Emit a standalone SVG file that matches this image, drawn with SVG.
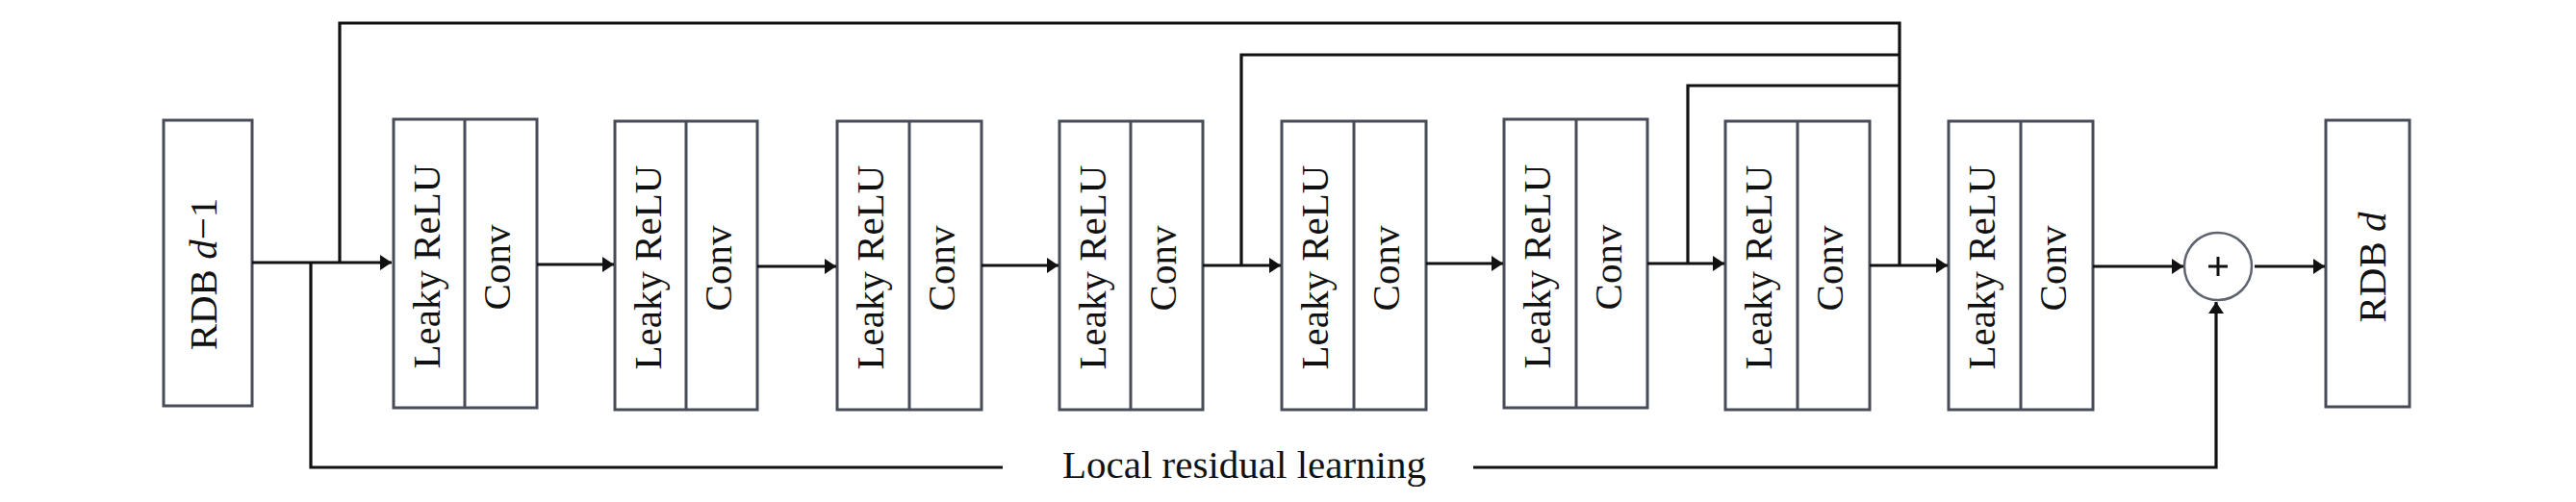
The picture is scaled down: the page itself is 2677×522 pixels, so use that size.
<svg xmlns="http://www.w3.org/2000/svg" width="2677" height="522" viewBox="0 0 2677 522">
<style>
.box{fill:#fff;stroke:#474c58;stroke-width:3}
.div{stroke:#474c58;stroke-width:3}
.lbl{font-family:"Liberation Serif","Times New Roman",serif;font-size:41px;fill:#111;text-anchor:middle}
.con{fill:none;stroke:#111;stroke-width:3.2;stroke-linejoin:miter}
.circ{fill:#fff;stroke:#5e636e;stroke-width:2.5}
</style>
<defs>
<marker id="ah" markerUnits="userSpaceOnUse" markerWidth="14" markerHeight="18" refX="12" refY="8" orient="auto">
<path d="M0,0 L12,8 L0,16 z" fill="#111"/>
</marker>
</defs>
<rect width="2677" height="522" fill="#fff"/>

<g id="rdb_in">
<rect class="box" x="170" y="125" width="92" height="297"/>
<text class="lbl" transform="translate(225,285) rotate(-90)">RDB <tspan font-style="italic">d</tspan>−1</text>
</g>

<g id="block1">
<rect class="box" x="409" y="124" width="149" height="300"/>
<line class="div" x1="483" y1="124" x2="483" y2="424"/>
<text class="lbl" transform="translate(457,277) rotate(-90)">Leaky ReLU</text>
<text class="lbl" transform="translate(530,278) rotate(-90)">Conv</text>
</g>
<g id="block2">
<rect class="box" x="639" y="126" width="148" height="300"/>
<line class="div" x1="713" y1="126" x2="713" y2="426"/>
<text class="lbl" transform="translate(687,278) rotate(-90)">Leaky ReLU</text>
<text class="lbl" transform="translate(760,279) rotate(-90)">Conv</text>
</g>
<g id="block3">
<rect class="box" x="870" y="126" width="150" height="300"/>
<line class="div" x1="945" y1="126" x2="945" y2="426"/>
<text class="lbl" transform="translate(918,278) rotate(-90)">Leaky ReLU</text>
<text class="lbl" transform="translate(992,279) rotate(-90)">Conv</text>
</g>
<g id="block4">
<rect class="box" x="1101" y="126" width="149" height="300"/>
<line class="div" x1="1175" y1="126" x2="1175" y2="426"/>
<text class="lbl" transform="translate(1149,278) rotate(-90)">Leaky ReLU</text>
<text class="lbl" transform="translate(1222,279) rotate(-90)">Conv</text>
</g>
<g id="block5">
<rect class="box" x="1332" y="126" width="150" height="300"/>
<line class="div" x1="1407" y1="126" x2="1407" y2="426"/>
<text class="lbl" transform="translate(1380,278) rotate(-90)">Leaky ReLU</text>
<text class="lbl" transform="translate(1454,279) rotate(-90)">Conv</text>
</g>
<g id="block6">
<rect class="box" x="1563" y="124" width="149" height="300"/>
<line class="div" x1="1638" y1="124" x2="1638" y2="424"/>
<text class="lbl" transform="translate(1611,277) rotate(-90)">Leaky ReLU</text>
<text class="lbl" transform="translate(1685,278) rotate(-90)">Conv</text>
</g>
<g id="block7">
<rect class="box" x="1793" y="126" width="150" height="300"/>
<line class="div" x1="1868" y1="126" x2="1868" y2="426"/>
<text class="lbl" transform="translate(1841,278) rotate(-90)">Leaky ReLU</text>
<text class="lbl" transform="translate(1915,279) rotate(-90)">Conv</text>
</g>
<g id="block8">
<rect class="box" x="2025" y="126" width="150" height="300"/>
<line class="div" x1="2100" y1="126" x2="2100" y2="426"/>
<text class="lbl" transform="translate(2073,278) rotate(-90)">Leaky ReLU</text>
<text class="lbl" transform="translate(2147,279) rotate(-90)">Conv</text>
</g>

<g id="sum">
<circle class="circ" cx="2305" cy="277" r="35"/>
<path d="M2295,277 H2315 M2305,267 V287" stroke="#111" stroke-width="3" fill="none"/>
</g>

<g id="rdb_out">
<rect class="box" x="2417" y="125" width="87" height="298"/>
<text class="lbl" transform="translate(2479,278) rotate(-90)">RDB <tspan font-style="italic">d</tspan></text>
</g>

<g id="connectors">
<path class="con" d="M262,273 H407" marker-end="url(#ah)"/>
<path class="con" d="M558,275 H638" marker-end="url(#ah)"/>
<path class="con" d="M787,277 H869" marker-end="url(#ah)"/>
<path class="con" d="M1020,276 H1100" marker-end="url(#ah)"/>
<path class="con" d="M1250,276 H1331" marker-end="url(#ah)"/>
<path class="con" d="M1482,274 H1562" marker-end="url(#ah)"/>
<path class="con" d="M1712,274 H1792" marker-end="url(#ah)"/>
<path class="con" d="M1943,276 H2024" marker-end="url(#ah)"/>
<path class="con" d="M2175,277 H2269" marker-end="url(#ah)"/>
<path class="con" d="M2343,277 H2416" marker-end="url(#ah)"/>
<path class="con" d="M353,273 V24 H1974 V276"/>
<path class="con" d="M1290,276 V57 H1974"/>
<path class="con" d="M1754,274 V89 H1974"/>
<path class="con" d="M323,273 V486 H1042"/>
<path class="con" d="M1531,486 H2303 V314" marker-end="url(#ah)"/>
<text class="lbl" x="1293" y="497">Local residual learning</text>
</g>
</svg>
